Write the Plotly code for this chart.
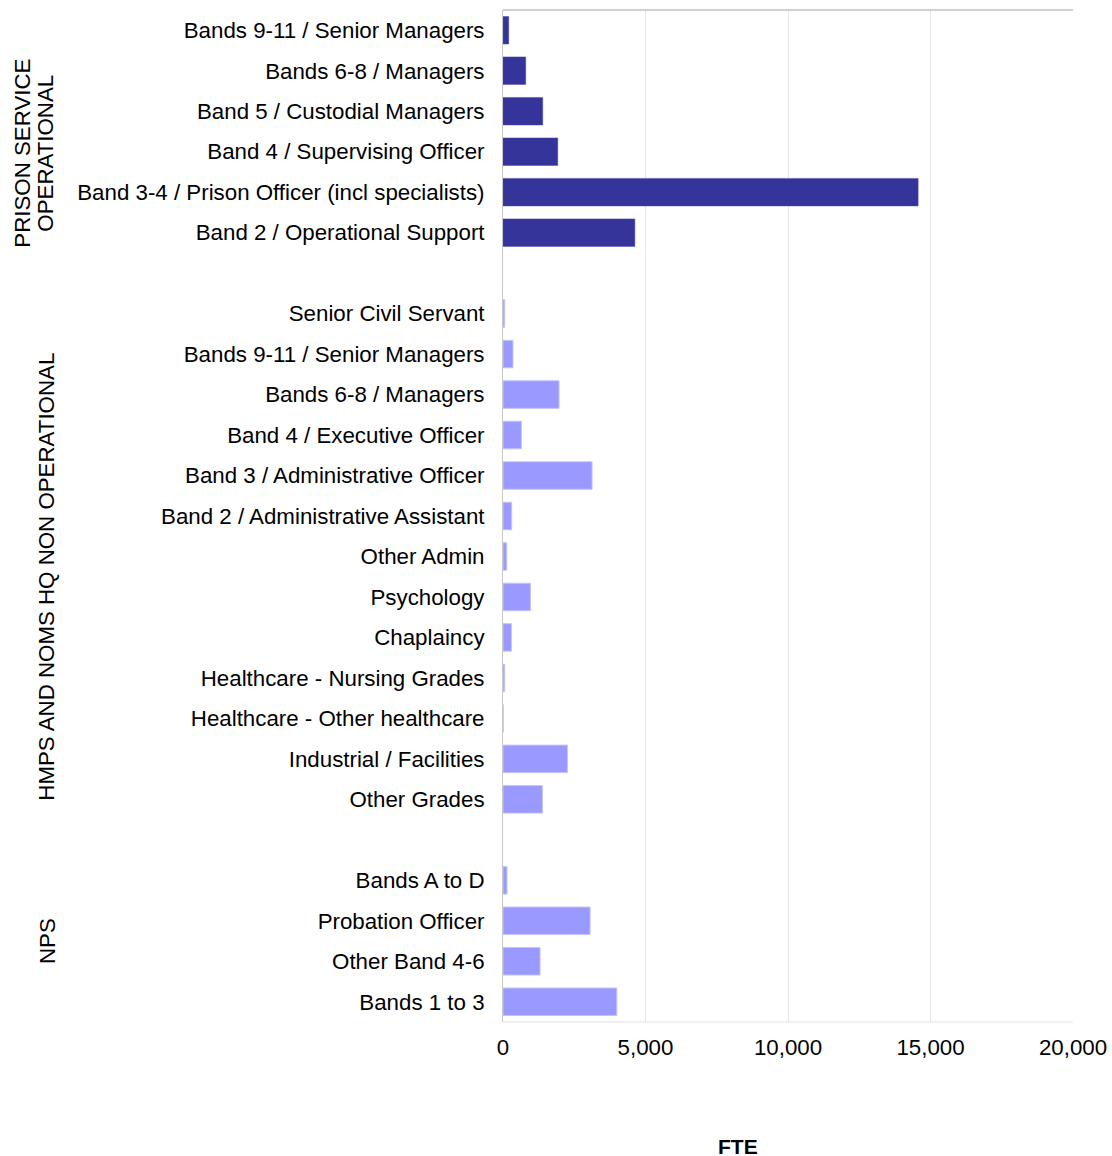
import plotly.graph_objects as go

# ---- data ----
prison_labels = [
    "Bands 9-11 / Senior Managers",
    "Bands 6-8 / Managers",
    "Band 5 / Custodial Managers",
    "Band 4 / Supervising Officer",
    "Band 3-4 / Prison Officer (incl specialists)",
    "Band 2 / Operational Support",
]
prison_values = [200, 797, 1394, 1921, 14566, 4626]

hq_labels = [
    "Senior Civil Servant",
    "Bands 9-11 / Senior Managers",
    "Bands 6-8 / Managers",
    "Band 4 / Executive Officer",
    "Band 3 / Administrative Officer",
    "Band 2 / Administrative Assistant",
    "Other Admin",
    "Psychology",
    "Chaplaincy",
    "Healthcare - Nursing Grades",
    "Healthcare - Other healthcare",
    "Industrial / Facilities",
    "Other Grades",
]
hq_values = [60, 351, 1967, 646, 3126, 305, 130, 962, 295, 60, 8, 2262, 1384]

nps_labels = ["Bands A to D", "Probation Officer", "Other Band 4-6", "Bands 1 to 3"]
nps_values = [140, 3056, 1300, 3994]

x_ticks = [0, 5000, 10000, 15000, 20000]
x_tick_labels = ["0", "5,000", "10,000", "15,000", "20,000"]

# ---- positions (row slots, one blank slot between groups) ----
prison_pos = list(range(len(prison_labels)))
hq_start = len(prison_labels) + 1
hq_pos = [hq_start + i for i in range(len(hq_labels))]
nps_start = hq_start + len(hq_labels) + 1
nps_pos = [nps_start + i for i in range(len(nps_labels))]
n_slots = nps_start + len(nps_labels)

DARK = "#35349a"
LIGHT = "#9999ff"
FONT = "Liberation Sans, Arial, sans-serif"
FS = 22.3

fig = go.Figure()
fig.add_trace(go.Bar(
    x=prison_values, y=prison_pos, orientation="h", width=0.68,
    marker=dict(color=DARK, line=dict(color="#4a49aa", width=0.5)),
    showlegend=False, hoverinfo="x",
))
fig.add_trace(go.Bar(
    x=hq_values, y=hq_pos, orientation="h", width=0.68,
    marker=dict(color=LIGHT, line=dict(color="#c4c4ff", width=1)),
    showlegend=False, hoverinfo="x",
))
fig.add_trace(go.Bar(
    x=nps_values, y=nps_pos, orientation="h", width=0.68,
    marker=dict(color=LIGHT, line=dict(color="#c4c4ff", width=1)),
    showlegend=False, hoverinfo="x",
))

fig.update_layout(
    width=1112, height=1156,
    margin=dict(l=503, r=39, t=10, b=134),
    paper_bgcolor="white", plot_bgcolor="white",
    font=dict(family=FONT, size=FS, color="#000000"),
    xaxis=dict(
        range=[0, 20000], tickvals=x_ticks, ticktext=x_tick_labels,
        showgrid=True, gridcolor="#e6e6e6", gridwidth=1,
        zeroline=False, showline=False, ticks="", ticklabelstandoff=10,
        tickfont=dict(size=FS), automargin=False,
    ),
    yaxis=dict(
        range=[n_slots - 0.5, -0.5],
        tickvals=prison_pos + hq_pos + nps_pos,
        ticktext=prison_labels + hq_labels + nps_labels,
        showgrid=False, zeroline=False,
        showline=True, linecolor="#c8c8c8", linewidth=1,
        ticks="", ticklabelstandoff=13,
        tickfont=dict(size=FS), automargin=False,
    ),
    bargap=0.32,
)

# frame lines
fig.add_shape(type="line", xref="paper", yref="paper", x0=0, x1=1, y0=1, y1=1,
              line=dict(color="#c0c0c0", width=1.5))
fig.add_shape(type="line", xref="paper", yref="paper", x0=0, x1=1, y0=0, y1=0,
              line=dict(color="#e2e2e2", width=1))

# group labels
group_font = dict(family=FONT, size=FS, color="#000000")
fig.add_annotation(text="PRISON SERVICE", xref="paper", yref="y", x=0, xshift=-480,
                   y=3.05, textangle=-90, showarrow=False, font=group_font,
                   xanchor="center", yanchor="middle")
fig.add_annotation(text="OPERATIONAL", xref="paper", yref="y", x=0, xshift=-457,
                   y=3.05, textangle=-90, showarrow=False, font=group_font,
                   xanchor="center", yanchor="middle")
fig.add_annotation(text="HMPS AND NOMS HQ NON OPERATIONAL", xref="paper", yref="y",
                   x=0, xshift=-456, y=13.5, textangle=-90, showarrow=False,
                   font=group_font, xanchor="center", yanchor="middle")
fig.add_annotation(text="NPS", xref="paper", yref="y", x=0, xshift=-456,
                   y=22.5, textangle=-90, showarrow=False, font=group_font,
                   xanchor="center", yanchor="middle")

# axis title
fig.add_annotation(text="<b>FTE</b>", xref="paper", yref="paper",
                   x=0.412, y=-0.1235, showarrow=False,
                   font=dict(family=FONT, size=21, color="#000000"),
                   xanchor="center", yanchor="middle")

fig.write_html(
    "out.html",
    config={"displayModeBar": False},
    post_script="document.body.style.margin='0';document.body.style.overflow='hidden';",
)
